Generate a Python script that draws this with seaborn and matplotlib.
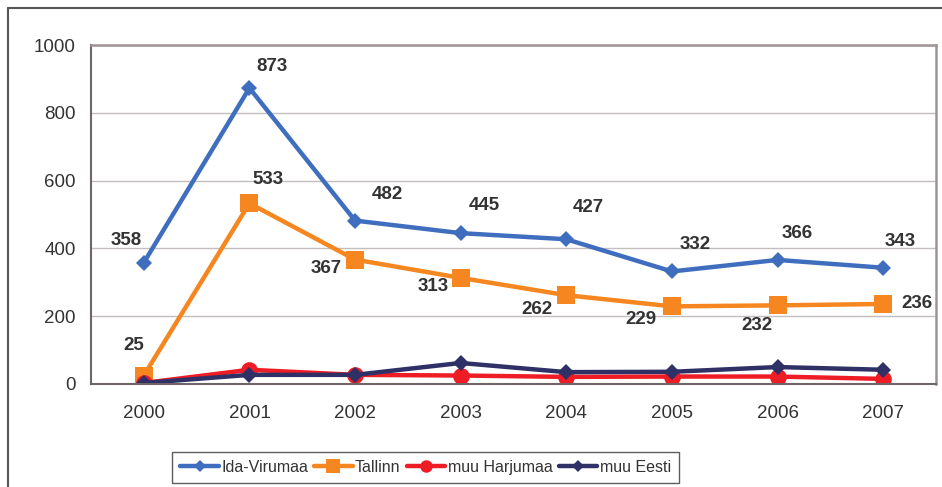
import numpy as np
import matplotlib
matplotlib.use("Agg")
import matplotlib.pyplot as plt
import seaborn as sns
from matplotlib.lines import Line2D
from matplotlib.ticker import FixedLocator

# Data
years = [2000, 2001, 2002, 2003, 2004, 2005, 2006, 2007]
ida_virumaa = [358, 873, 482, 445, 427, 332, 366, 343]
tallinn = [25, 533, 367, 313, 262, 229, 232, 236]
muu_harjumaa = [3, 42, 27, 25, 21, 22, 22, 15]
muu_eesti = [3, 27, 27, 62, 35, 36, 50, 42]

# label offsets in pixels (dx right, dy down) relative to the marker
blue_offsets = [(-18, -22), (23, -22), (32, -26), (24, -28), (22, -32), (23, -27), (20, -26), (17, -26)]
orange_offsets = [(-10, -30), (19, -24), (-29, 9), (-27, 9), (-29, 14), (-31, 13), (-21, 20), (34, 0)]

sns.set_style("white")
plt.rcParams['font.family'] = ['Liberation Sans', 'DejaVu Sans']

fig = plt.figure(figsize=(9.42, 4.87), dpi=100)
ax = fig.add_axes([91 / 942, 1 - 384 / 487, (936 - 91) / 942, (384 - 45) / 487])

series = [
    ("Ida-Virumaa", ida_virumaa, "#3F6EBF", "D", 8.5),
    ("Tallinn", tallinn, "#F6861F", "s", 13),
    ("muu Harjumaa", muu_harjumaa, "#EE1C25", "o", 12),
    ("muu Eesti", muu_eesti, "#2E3066", "D", 8.5),
]
for name, vals, col, mk, ms in series:
    sns.lineplot(x=years, y=vals, ax=ax, color=col, marker=mk, markersize=ms,
                 markeredgecolor=col, markeredgewidth=0, linewidth=3.2, label=name)

# data labels
for vals, offs in [(ida_virumaa, blue_offsets), (tallinn, orange_offsets)]:
    for yr, v, (dx, dy) in zip(years, vals, offs):
        ax.annotate(str(v), (yr, v), xytext=(dx * 0.72, -dy * 0.72), textcoords="offset points",
                    ha="center", va="center", fontsize=13.5, fontweight="bold", color="#333333")

ax.set_xlim(1999.5, 2007.5)
ax.set_ylim(0, 1000)
ax.set_yticks(np.arange(0, 1001, 200))
ax.set_xticks(years)
ax.set_xticklabels([str(y) for y in years])
ax.xaxis.set_minor_locator(FixedLocator(np.arange(1999.5, 2008, 1)))
ax.tick_params(axis="x", which="major", length=0, pad=15, labelsize=13.5, labelcolor="#333333")
ax.tick_params(axis="x", which="minor", length=5, width=1, color="#666666", direction="out")
ax.tick_params(axis="y", length=5, width=1, color="#666666", direction="out", pad=6,
               labelsize=13.5, labelcolor="#333333")
ax.yaxis.grid(True, color="#C4BDBD", linewidth=1)
ax.set_axisbelow(True)
ax.set_xlabel("")
ax.set_ylabel("")

for side in ["top", "right"]:
    ax.spines[side].set_color("#9E9494")
    ax.spines[side].set_linewidth(1.8)
ax.spines["left"].set_color("#6E6666")
ax.spines["left"].set_linewidth(1.5)
ax.spines["bottom"].set_color("#6E6666")
ax.spines["bottom"].set_linewidth(1.5)

# legend
ax.legend(loc="center", bbox_to_anchor=(425.5 / 942, 1 - 467.5 / 487), bbox_transform=fig.transFigure,
          ncol=4, frameon=True, fancybox=False, edgecolor="#333333", fontsize=11.5,
          handlelength=2.4, handletextpad=0.15, columnspacing=0.4, borderpad=0.5,
          markerscale=0.75, borderaxespad=0)
leg = ax.get_legend()
leg.get_frame().set_linewidth(1.0)
for t in leg.get_texts():
    t.set_color("#333333")

# outer chart frame
fig.add_artist(Line2D([8 / 942, 1], [1 - 8 / 487, 1 - 8 / 487], transform=fig.transFigure,
                      color="#555555", linewidth=1.5))
fig.add_artist(Line2D([8 / 942, 8 / 942], [0, 1 - 8 / 487], transform=fig.transFigure,
                      color="#555555", linewidth=1.5))

fig.savefig("out.png", dpi=100)
